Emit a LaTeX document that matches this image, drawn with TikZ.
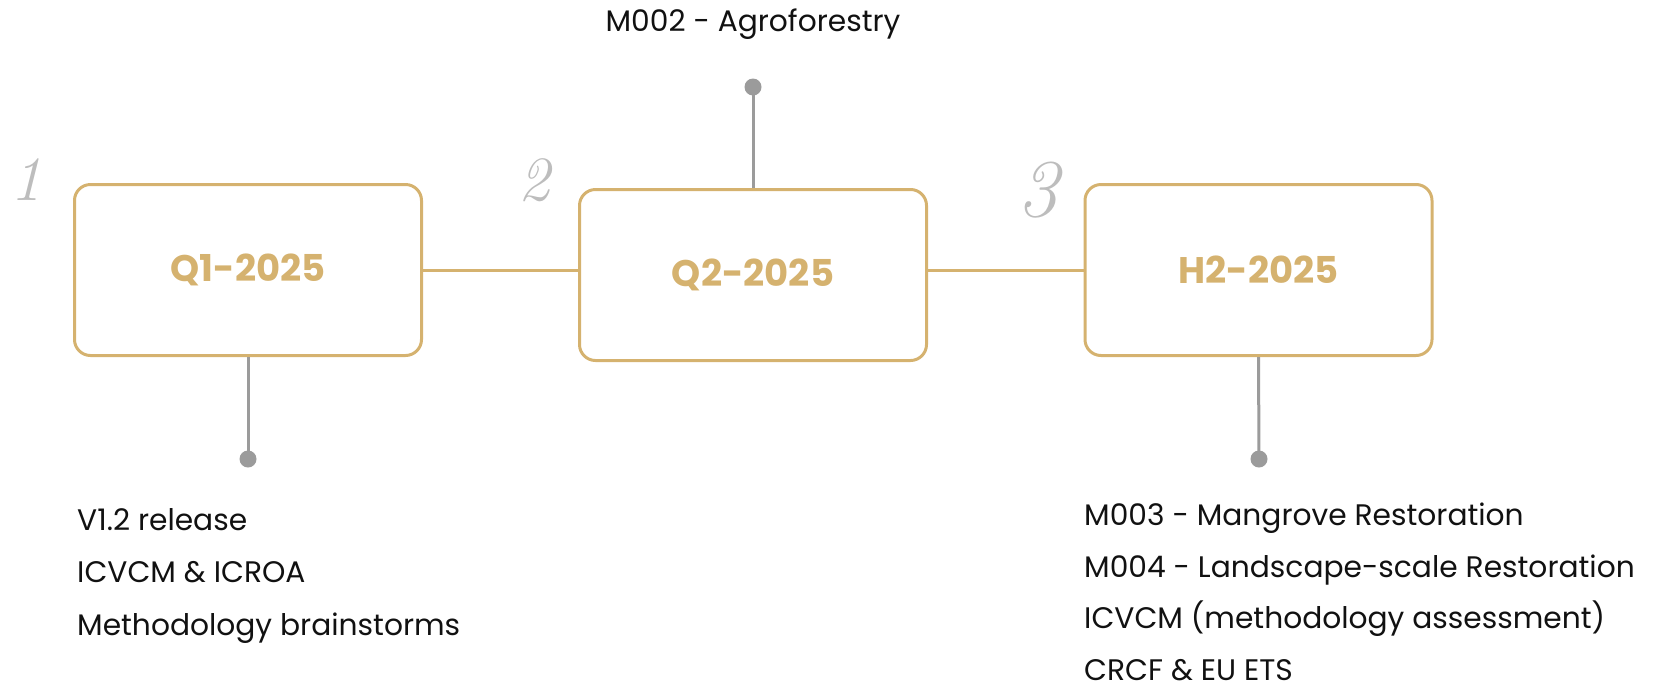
\documentclass[tikz,border=0pt]{standalone}
\usepackage{fontspec}
\setsansfont{Poppins}
\definecolor{gold}{HTML}{D5B26F}
\definecolor{conn}{HTML}{9B9B9B}
\definecolor{numgray}{HTML}{BDBDBD}
\definecolor{ink}{HTML}{111111}
\begin{document}
\begin{tikzpicture}[x=1pt,y=-1pt,
  stagebox/.style={draw=gold,line width=3pt,rounded corners=16pt,minimum width=347pt,minimum height=171pt,inner sep=0pt,
    font=\sffamily\bfseries\fontsize{37}{42}\selectfont,text=gold},
  stagenum/.style={anchor=base,font=\itshape\fontsize{63}{63}\selectfont,text=numgray},
  goldline/.style={draw=gold,line width=3pt},
  greyline/.style={draw=conn,line width=3pt},
  pin/.style={circle,fill=conn,inner sep=0pt,minimum size=17pt},
  item/.style={anchor=base west,inner sep=0pt,font=\sffamily\fontsize{29.7}{34}\selectfont,text=ink},
  toplabel/.style={anchor=base,inner sep=0pt,font=\sffamily\fontsize{29.7}{34}\selectfont,text=ink}]
\useasboundingbox (0,0) rectangle (1657,689);
\node[stagebox] (b1) at (248,270) {Q1-2025};
\node[stagebox] (b2) at (753,275) {Q2-2025};
\node[stagebox] (b3) at (1258.5,270) {H2-2025};
\node[stagenum] (n1) at (26,200) {1};
\node[stagenum] (n2) at (534,200) {2};
\node[stagenum,font=\itshape\fontsize{82}{82}\selectfont] (n3) at (1038,216) {3};
\draw[goldline] (b1.east) -- (b1.east -| b2.west);
\draw[goldline] (b1.east -| b2.east) -- (b1.east -| b3.west);
\coordinate (p1) at (248,459);
\coordinate (p2) at (753,87);
\coordinate (p3) at (1259,459);
\draw[greyline] (b1.south) -- (p1);
\draw[greyline] (b2.north) -- (p2);
\draw[greyline] (b3.south) -- (p3);
\node[pin] (d1) at (p1) {};
\node[pin] (d2) at (p2) {};
\node[pin] (d3) at (p3) {};
\node[toplabel] (t2) at (753,31) {M002 - Agroforestry};
\node[item] (a1) at (77,530) {V1.2 release};
\node[item] (a2) at (77,582.5) {ICVCM \& ICROA};
\node[item] (a3) at (77,635) {Methodology brainstorms};
\node[item] (c1) at (1084,525) {M003 - Mangrove Restoration};
\node[item] (c2) at (1084,577) {M004 - Landscape-scale Restoration};
\node[item] (c3) at (1084,628.5) {ICVCM (methodology assessment)};
\node[item] (c4) at (1084,680) {CRCF \& EU ETS};
\end{tikzpicture}
\end{document}
